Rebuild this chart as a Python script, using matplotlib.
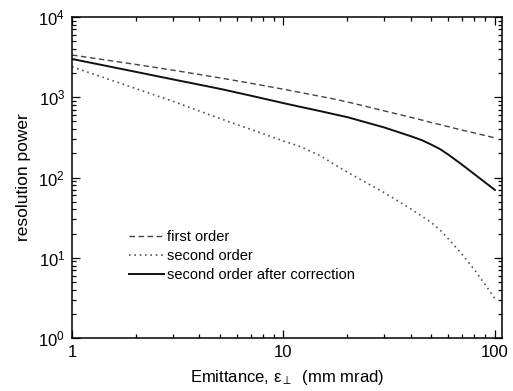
import matplotlib
matplotlib.use("Agg")
import matplotlib.pyplot as plt
from matplotlib.ticker import LogLocator, FixedLocator, NullFormatter

plt.rcParams['font.family'] = ['Liberation Sans', 'DejaVu Sans']
plt.rcParams['mathtext.fontset'] = 'custom'
plt.rcParams['mathtext.rm'] = 'Liberation Serif'
plt.rcParams['mathtext.it'] = 'Liberation Serif:italic'

emittance = [1, 2, 3, 5, 7, 10, 12, 15, 17, 20, 30, 40, 45, 50, 55, 60, 70, 80, 90, 100]
first_order = [3360, 2565, 2175, 1745, 1496, 1259, 1148, 1023, 961, 877, 676, 562, 521, 484, 456, 431, 389, 359, 333, 312]
second_order = [2400, 1285, 891, 543, 398, 285, 243, 186, 151, 117, 64.6, 40.7, 33.1, 27.5, 22.2, 17.4, 11.0, 7.1, 4.6, 3.1]
corrected = [3000, 2075, 1670, 1275, 1047, 845, 760, 670, 622, 566, 420, 327, 293, 257, 226, 194, 144, 110, 86.5, 70]

labels = ["first order", "second order", "second order after correction"]
x_ticklabels = ["1", "10", "100"]

fig = plt.figure(figsize=(5.13, 3.91), dpi=100)
ax = fig.add_axes([0.1404, 0.1355, 0.9786 - 0.1404, 0.9565 - 0.1355])

ax.plot(emittance, first_order, linestyle=(0, (4, 2.5)), color='#444444', lw=1.0, label=labels[0])
ax.plot(emittance, second_order, linestyle=(0, (1, 2.2)), color='#555555', lw=1.2, label=labels[1])
ax.plot(emittance, corrected, linestyle='-', color='#111111', lw=1.4, label=labels[2])

ax.set_xscale('log')
ax.set_yscale('log')
ax.set_xlim(1, 108)
ax.set_ylim(1, 1e4)

ax.xaxis.set_major_locator(FixedLocator([1, 10, 100]))
ax.set_xticklabels(x_ticklabels)
ax.xaxis.set_minor_locator(LogLocator(base=10, subs=range(2, 10), numticks=20))
ax.xaxis.set_minor_formatter(NullFormatter())
ax.yaxis.set_major_locator(LogLocator(base=10, numticks=10))
ax.yaxis.set_minor_locator(LogLocator(base=10, subs=range(2, 10), numticks=20))
ax.yaxis.set_minor_formatter(NullFormatter())

ax.tick_params(which='both', direction='in', top=True, right=True, labelsize=12, width=0.9)
ax.tick_params(which='major', length=6, pad=5)
ax.tick_params(which='minor', length=3)
for s in ax.spines.values():
    s.set_linewidth(1.1)

ax.set_xlabel(r"Emittance, $\mathregular{\epsilon_{\perp}}$  (mm mrad)", fontsize=12, labelpad=6)
ax.set_ylabel("resolution power", fontsize=12.5, labelpad=5)

leg = ax.legend(loc='lower left', bbox_to_anchor=(0.12, 0.155), frameon=False,
                fontsize=10.5, handlelength=2.4, handletextpad=0.15, labelspacing=0.35,
                borderaxespad=0)

fig.savefig("out.png", dpi=100)
